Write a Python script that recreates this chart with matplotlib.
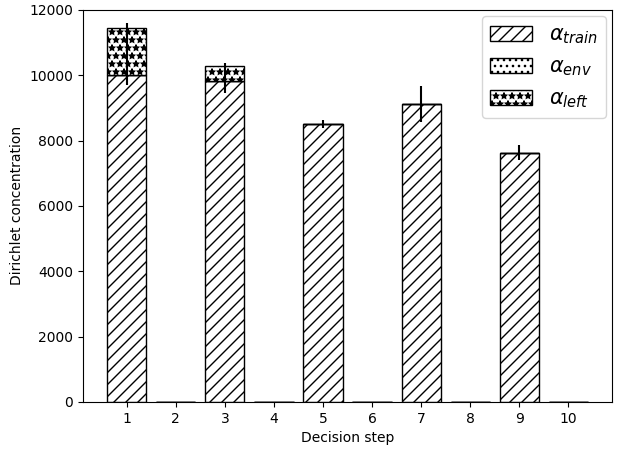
import numpy as np
import matplotlib.pyplot as plt

# ---------- DATA ----------
steps = [1, 2, 3, 4, 5, 6, 7, 8, 9, 10]
alpha_train = [10000, 0, 9830, 0, 8500, 0, 9130, 0, 7620, 0]
alpha_env = [0, 0, 0, 0, 0, 0, 0, 0, 0, 0]
alpha_left = [1440, 0, 450, 0, 0, 0, 0, 0, 0, 0]

# error bar centres and half lengths
err_center = [10650, 0, 9920, 0, 8520, 0, 9125, 0, 7630, 0]
err_half = [960, 0, 470, 0, 120, 0, 545, 0, 220, 0]

# original looks like a 144 dpi render shrunk down -> render at 144 dpi
# and shrink the point sizes so text keeps its pixel size
DPI = 144
s = 100 / DPI
plt.rcParams.update({
    "font.size": 10 * s,
    "axes.linewidth": 0.8 * s,
    "axes.labelpad": 4 * s,
    "xtick.major.size": 3.5 * s,
    "ytick.major.size": 3.5 * s,
    "xtick.major.width": 0.8 * s,
    "ytick.major.width": 0.8 * s,
    "xtick.major.pad": 3.5 * s,
    "ytick.major.pad": 3.5 * s,
    "patch.linewidth": 1.0 * s,
    "hatch.linewidth": 1.0 * s,
})

fig, ax = plt.subplots(figsize=(624 / DPI, 452 / DPI), dpi=DPI)
fig.subplots_adjust(left=0.133, right=0.981, top=0.978, bottom=0.111)

train = np.array(alpha_train)
env = np.array(alpha_env)
left = np.array(alpha_left)

ax.bar(steps, train, width=0.8, color="white", edgecolor="black",
       hatch="////", label=r"$\alpha_{train}$")
ax.bar(steps, env, width=0.8, bottom=train, color="white", edgecolor="black",
       hatch="....", label=r"$\alpha_{env}$")
ax.bar(steps, left, width=0.8, bottom=train + env, color="white",
       edgecolor="black", hatch="***", label=r"$\alpha_{left}$")

ax.errorbar(steps, err_center, yerr=err_half, fmt="none", ecolor="black",
            elinewidth=1.5 * s, capsize=0)

ax.set_xticks(steps)
ax.set_ylim(0, 12000)
ax.set_xlabel("Decision step")
ax.set_ylabel("Dirichlet concentration")
ax.legend(loc="upper right", fontsize=15 * s, borderaxespad=0.3)

plt.savefig("out.png")
